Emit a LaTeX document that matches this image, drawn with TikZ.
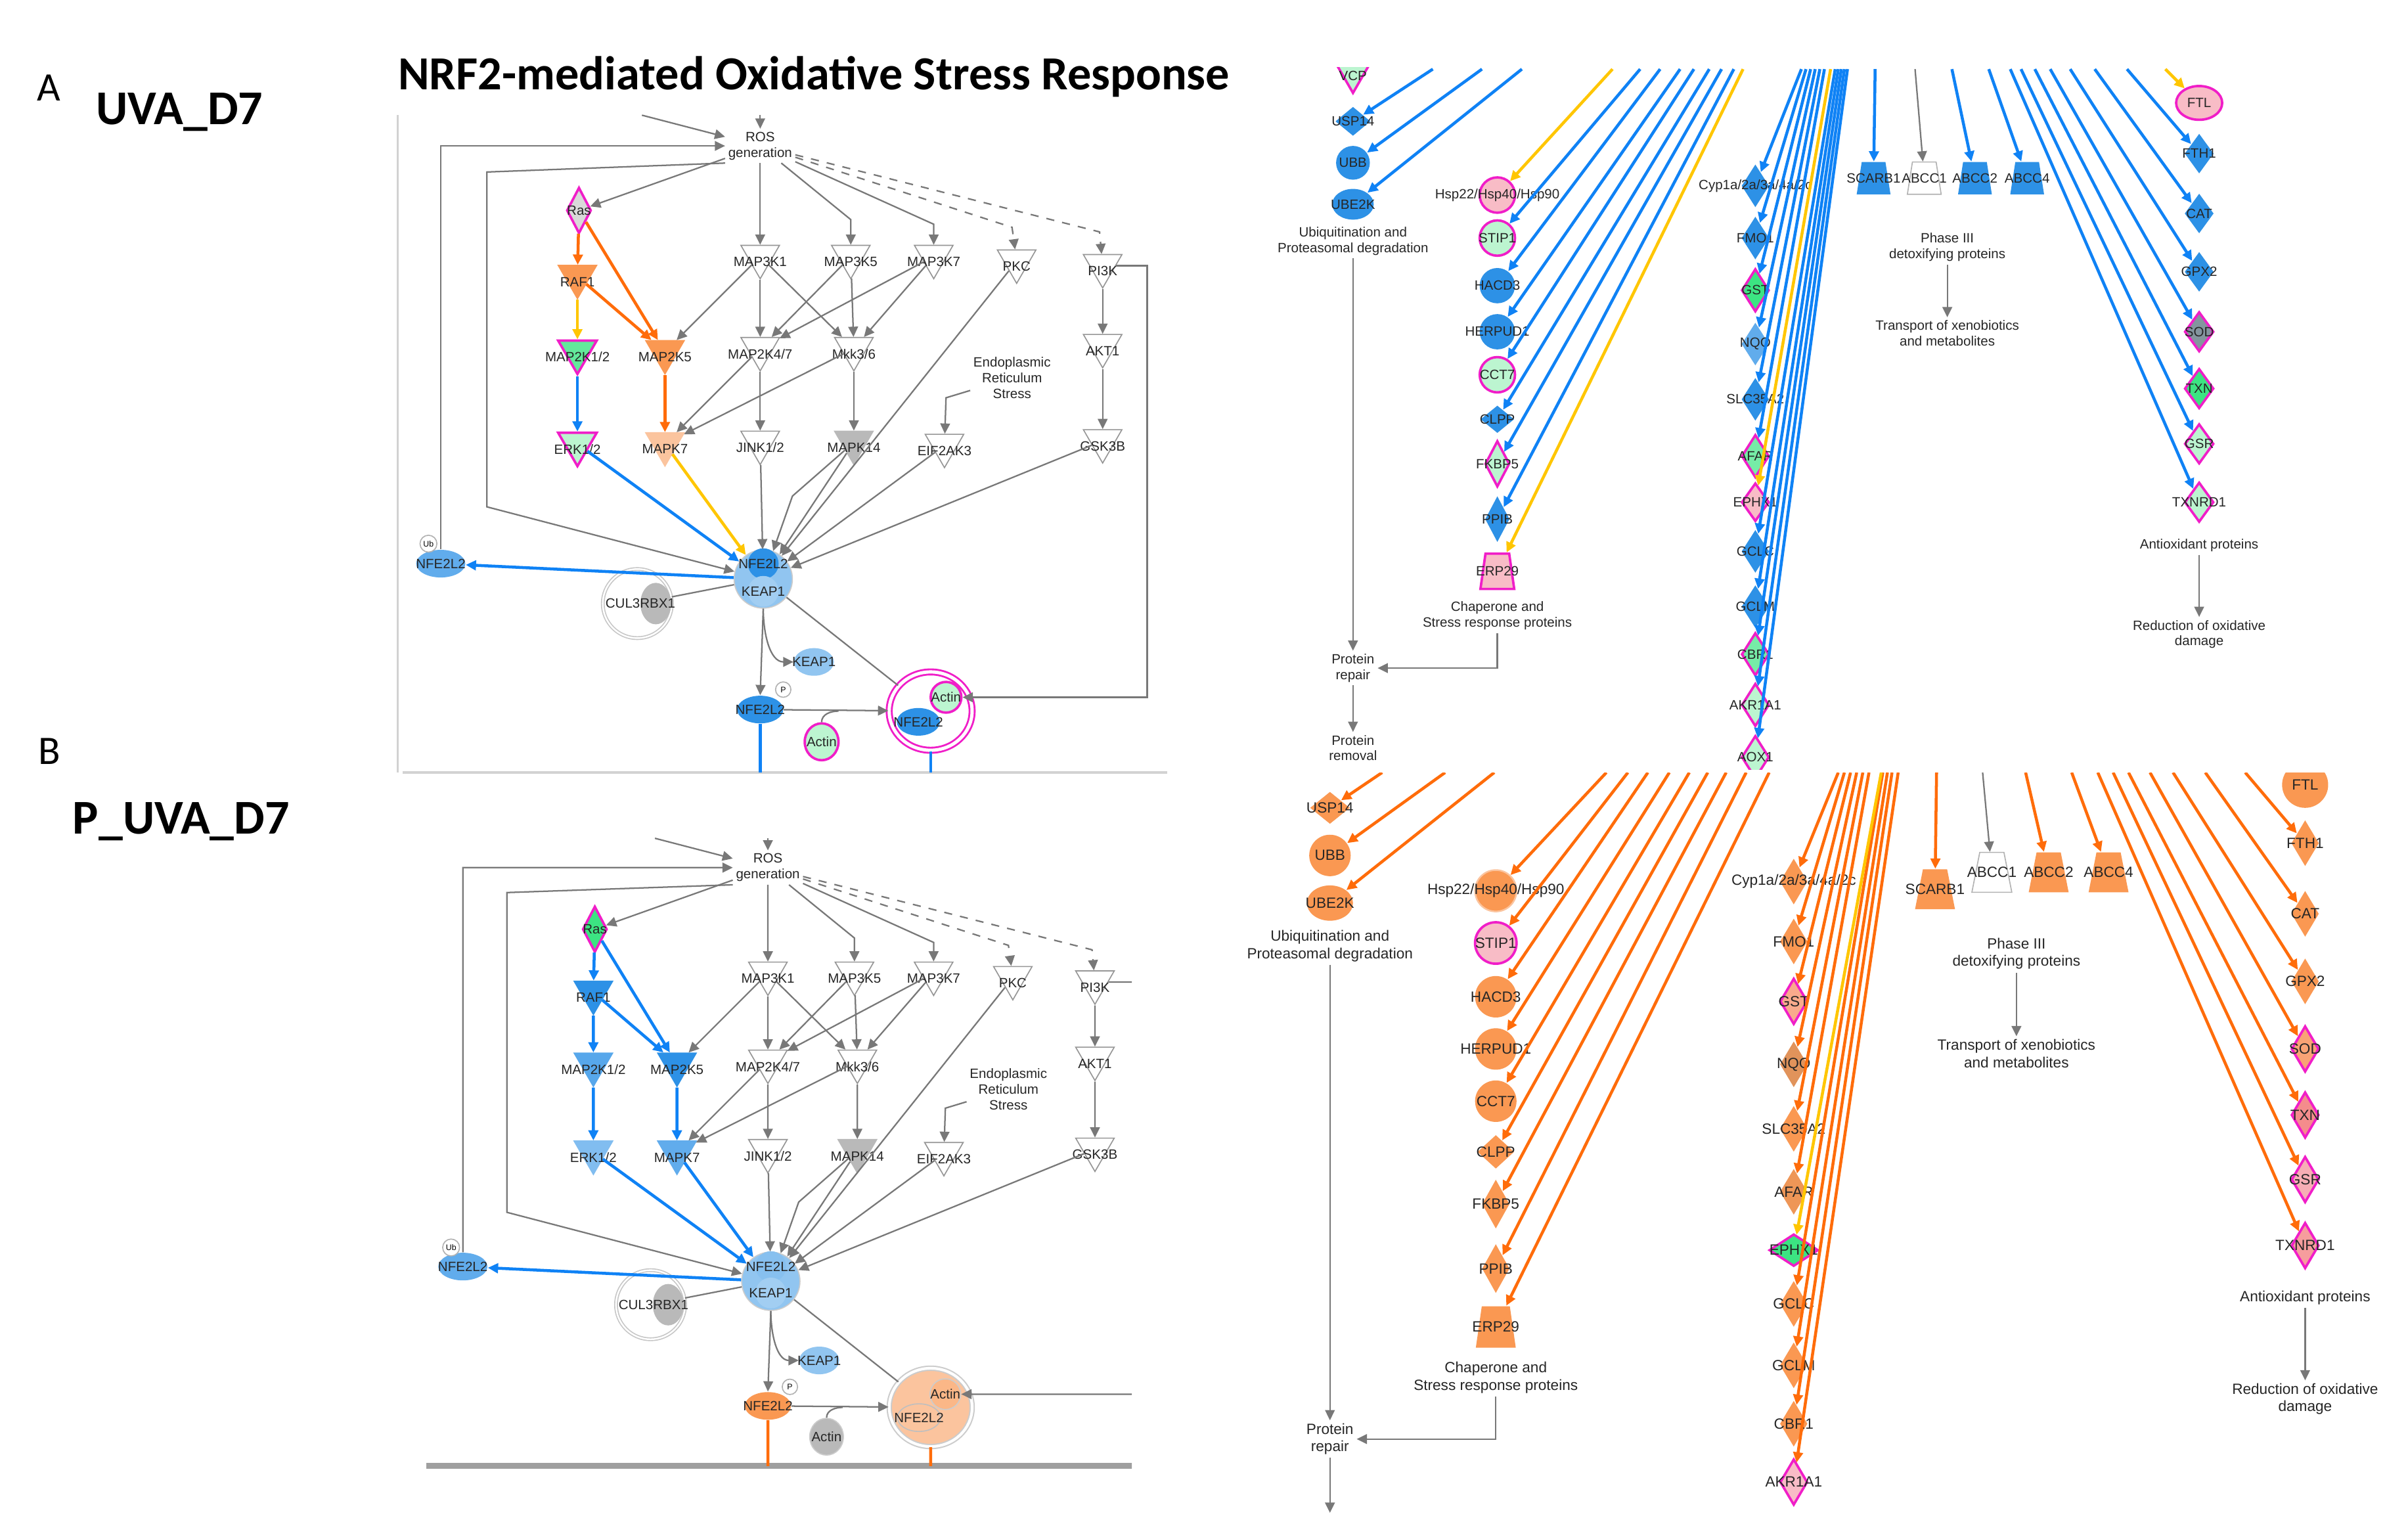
\documentclass[tikz,border=0pt]{standalone}
\usepackage{fontspec}
\setmainfont{Liberation Sans}
\newfontfamily\calib{Carlito}
\usetikzlibrary{shapes.geometric,arrows.meta}

\definecolor{mag}{RGB}{240,30,200}
\definecolor{gfill}{RGB}{60,228,130}
\definecolor{lgfill}{RGB}{188,245,208}
\definecolor{pfill}{RGB}{248,188,198}
\definecolor{salmon}{RGB}{244,140,140}
\definecolor{nblue}{RGB}{45,145,230}
\definecolor{sblue}{RGB}{145,197,240}
\definecolor{lnblue}{RGB}{15,130,245}
\definecolor{norange}{RGB}{250,152,82}
\definecolor{sorange}{RGB}{251,196,158}
\definecolor{lnorange}{RGB}{255,108,10}
\definecolor{lnyellow}{RGB}{255,198,0}
\definecolor{kline}{RGB}{150,150,150}
\definecolor{gline}{RGB}{120,120,120}

\tikzset{
  gt/.style={font=\fontsize{5}{5.6}\selectfont, inner sep=0pt, text=black!85},
  kt/.style={gt, yshift=-2pt},
  lbl/.style={font=\fontsize{5}{5.8}\selectfont, align=center, inner sep=1pt, text=black!85},
  kin/.style={regular polygon, regular polygon sides=3, shape border rotate=180,
    inner sep=0pt, minimum size=5.8mm, draw=kline, fill=white, line width=0.4pt},
  dia/.style={diamond, inner sep=0pt, minimum width=3.6mm, minimum height=5.6mm},
  cir/.style={circle, inner sep=0pt, minimum size=4.6mm},
  ell/.style={ellipse, inner sep=0pt, minimum width=5.4mm, minimum height=4mm},
  trap/.style={trapezium, trapezium angle=78, trapezium stretches=true,
    inner sep=0.4pt, minimum width=4.4mm, minimum height=4.2mm},
  magb/.style={draw=mag, line width=0.9pt},
  ipatip/.style={-{Triangle[length=3.8pt,width=3.6pt]}},
  glink/.style={draw=gline, line width=0.55pt},
  garr/.style={glink, ipatip},
  barr/.style={draw=lnblue, line width=1.1pt, ipatip},
  oarr/.style={draw=lnorange, line width=1.1pt, ipatip},
  yarr/.style={draw=lnyellow, line width=1.1pt, ipatip}
}

\newcommand\nrfpath{%
\draw[floorS] (262,503) -- (760,503);
\node[lbl] (ros) at (495,95) {ROS\\generation};
\coordinate (rin) at (418,75);
\coordinate (rtop) at (495,75);
\node[dia,rasS,minimum width=3.2mm,minimum height=6mm,label={[gt]center:Ras}] (ras) at (377,137) {};
\node[kin,rafS,label={[kt]center:RAF1}] (raf) at (376,180) {};
\node[kin,mekS,label={[kt]center:MAP2K1/2}] (mek) at (376,229) {};
\node[kin,erkS,label={[kt]center:ERK1/2}] (erk) at (376,289) {};
\node[kin,mek5S,label={[kt]center:MAP2K5}] (mek5) at (433,229) {};
\node[kin,mapk7S,label={[kt]center:MAPK7}] (mapk7) at (433,289) {};
\node[kin,label={[kt]center:MAP3K1}] (m3k1) at (495,167) {};
\node[kin,label={[kt]center:MAP3K5}] (m3k5) at (554,167) {};
\node[kin,label={[kt]center:MAP3K7}] (m3k7) at (608,167) {};
\node[kin,label={[kt]center:PKC}] (pkc) at (662,170) {};
\node[kin,label={[kt]center:PI3K}] (pik) at (718,173) {};
\node[kin,label={[kt]center:MAP2K4/7}] (mkk47) at (495,227) {};
\node[kin,label={[kt]center:Mkk3/6}] (mkk36) at (556,227) {};
\node[kin,label={[kt]center:AKT1}] (akt) at (718,225) {};
\node[kin,label={[kt]center:JINK1/2}] (jnk) at (495,288) {};
\node[kin,fill=gray!55,draw=gray!55,label={[kt]center:MAPK14}] (p38) at (556,288) {};
\node[kin,label={[kt]center:EIF2AK3}] (perk) at (615,290) {};
\node[kin,label={[kt]center:GSK3B}] (gsk) at (718,287) {};
\node[lbl] (ers) at (659,246) {Endoplasmic\\Reticulum\\Stress};
\node[circle,inner sep=0pt,minimum size=7.6mm,fill=sblue,draw=gray!40] (cplx) at (497,377) {};
\node[circle,inner sep=0pt,minimum size=4mm,cnS,label={[gt]center:NFE2L2}] (cnrf) at (497,367) {};
\node[circle,inner sep=0pt,minimum size=4mm,fill=sblue!85,label={[gt]center:KEAP1}] (ckeap) at (497,385) {};
\node[circle,inner sep=0pt,minimum size=9mm,draw=gray!45,double,fill=white] (cul) at (415,393) {};
\node[ellipse,inner sep=0pt,minimum width=4mm,minimum height=5.4mm,fill=gray!55] (rbx) at (427,393) {};
\node[gt] (cultxt) at (417,393) {CUL3RBX1};
\node[ell,fill=nblue!75,minimum width=6.4mm,minimum height=3.6mm,label={[gt]center:NFE2L2}] (nrfl) at (287,367) {};
\node[circle,draw=gray!60,fill=white,inner sep=0pt,minimum size=2.2mm,font=\fontsize{3}{3}\selectfont] (ub) at (279,354) {Ub};
\node[ell,fill=sblue,minimum width=5.2mm,minimum height=3.6mm,label={[gt]center:KEAP1}] (keapf) at (530,431) {};
\node[ell,nrfpS,minimum width=6mm,minimum height=3.6mm,label={[gt]center:NFE2L2}] (nrfp) at (495,462) {};
\node[circle,draw=gray!60,fill=white,inner sep=0pt,minimum size=2mm,font=\fontsize{3}{3}\selectfont] (pp) at (510,449) {P};
\node[ell,actS,minimum width=4.4mm,minimum height=4.8mm,label={[gt]center:Actin}] (actin) at (535,483) {};
\node[ellipse,inner sep=0pt,acxS,minimum width=10.8mm,minimum height=10.2mm] (acx) at (606,463) {};
\node[circle,inner sep=0pt,acinS,minimum size=4mm,label={[gt]center:Actin}] (acin) at (616,454) {};
\node[ellipse,inner sep=0pt,acnS,minimum width=5.6mm,minimum height=3.6mm,label={[gt]center:NFE2L2}] (acn) at (598,470) {};
\draw[garr] (rin) -- (ros);
\draw[garr] (rtop) -- (ros.north);
\draw[garr] (nrfl.north) -- (287,95) -- (ros.west);
\draw[garr] (ros.south west) -- (317,112) -- (317,330) -- (cplx);
\draw[garr] (ros) -- (ras);
\draw[garr] (ros) -- (m3k1);
\draw[garr] (ros) -- (554,143) -- (m3k5);
\draw[garr] (ros) -- (608,146) -- (m3k7);
\draw[garr,dashed] (ros) -- (659,148) -- (pkc);
\draw[garr,dashed] (ros) -- (716,151) -- (pik);
\draw[rrS] (ras) -- (raf);
\draw[rmS] (ras) -- (mek5);
\draw[fmS] (raf) -- (mek);
\draw[f5S] (raf) -- (mek5);
\draw[meS] (mek) -- (erk);
\draw[m7S] (mek5) -- (mapk7);
\draw[garr] (m3k1) -- (mek5);
\draw[garr] (m3k1) -- (mkk47);
\draw[garr] (m3k1) -- (mkk36);
\draw[garr] (m3k5) -- (mkk47);
\draw[garr] (m3k5) -- (mkk36);
\draw[garr] (m3k7) -- (mkk47);
\draw[garr] (m3k7) -- (mkk36);
\draw[garr] (mkk47) -- (mapk7);
\draw[garr] (mkk47) -- (jnk);
\draw[garr] (mkk36) -- (mapk7);
\draw[garr] (mkk36) -- (p38);
\draw[garr] (pik) -- (akt);
\draw[garr] (akt) -- (gsk);
\draw[garr] (ers) -- (616,259) -- (perk);
\draw[ecS] (erk) -- (cplx);
\draw[m7cS] (mapk7) -- (cplx);
\draw[garr] (jnk) -- (cplx);
\draw[garr] (p38) -- (516,323) -- (cplx);
\draw[garr] (p38) -- (cplx);
\draw[garr] (pkc) -- (cplx);
\draw[garr] (perk) -- (cplx);
\draw[garr] (gsk) -- (cplx);
\draw[barr] (cplx) -- (nrfl);
\draw[glink] (cul) -- (cplx);
\draw[garr] (cplx.south) to[out=-90,in=180] (keapf.west);
\draw[garr] (cplx.south) -- (nrfp.north);
\draw[glink] (cplx) -- (acx);
\draw[garr] (nrfp) -- (acx);
\draw[glink] (actin.north) to[out=90,in=180] (546,463);
\draw[garr] (pik.east) -- (747,173) |- (acin.east);
\draw[downS] (nrfp.south) -- (495,503);
\draw[downS] (acx.south) -- (606,503);
}

\begin{document}
\begin{tikzpicture}[x=0.02cm,y=-0.02cm]
\useasboundingbox[fill=white] (0,0) rectangle (1568,991);
\node[font=\calib\bfseries\fontsize{17.6}{19}\selectfont] (title) at (530,50) {NRF2-mediated Oxidative Stress Response};
\node[font=\calib\fontsize{15}{17}\selectfont] (pa) at (32,57) {A};
\node[font=\calib\bfseries\fontsize{18}{20}\selectfont] (ca) at (117,73) {UVA\_D7};
\node[font=\calib\fontsize{15}{17}\selectfont] (pb) at (32,489) {B};
\node[font=\calib\bfseries\fontsize{18}{20}\selectfont] (cb) at (118,535) {P\_UVA\_D7};

% panel A, pathway
\begin{scope}[name prefix=a-,
  rasS/.style={fill=gray!30,magb}, rafS/.style={fill=norange,draw=norange},
  mekS/.style={fill=gfill!80,magb}, erkS/.style={fill=lgfill,magb},
  mek5S/.style={fill=norange,draw=norange}, mapk7S/.style={fill=sorange,draw=sorange},
  cnS/.style={fill=nblue}, nrfpS/.style={fill=nblue}, actS/.style={fill=lgfill,magb},
  acxS/.style={draw=mag,double,double distance=1.2pt,line width=0.7pt,fill=white},
  acinS/.style={fill=lgfill,magb}, acnS/.style={fill=nblue},
  floorS/.style={draw=gray!35,line width=0.8pt}, downS/.style={draw=lnblue,line width=1.1pt},
  rrS/.style={oarr}, rmS/.style={oarr}, fmS/.style={yarr}, f5S/.style={oarr},
  meS/.style={barr}, m7S/.style={oarr}, ecS/.style={barr}, m7cS/.style={yarr}]
\draw[gray!35,line width=0.8pt] (259,75) -- (259,503);
\nrfpath
\end{scope}

% panel B, pathway
\begin{scope}
\clip (268,540) rectangle (737,962);
\begin{scope}[shift={(27.3,474.2)}, scale=0.955, name prefix=b-,
  rasS/.style={fill=gfill,magb}, rafS/.style={fill=nblue,draw=nblue},
  mekS/.style={fill=nblue!80,draw=nblue!80}, erkS/.style={fill=nblue!60,draw=nblue!60},
  mek5S/.style={fill=nblue,draw=nblue}, mapk7S/.style={fill=nblue!75,draw=nblue!75},
  cnS/.style={fill=sblue!90!nblue}, nrfpS/.style={fill=norange}, actS/.style={fill=gray!55,draw=gray!40},
  acxS/.style={draw=gray!40,double,double distance=1pt,line width=0.5pt,fill=sorange},
  acinS/.style={fill=sorange!70!norange,draw=gray!40}, acnS/.style={fill=sorange,draw=gray!50},
  floorS/.style={draw=gray!75,line width=2.2pt}, downS/.style={draw=lnorange,line width=1.1pt},
  rrS/.style={barr}, rmS/.style={barr}, fmS/.style={barr}, f5S/.style={barr},
  meS/.style={barr}, m7S/.style={barr}, ecS/.style={barr}, m7cS/.style={barr}]
\nrfpath
\end{scope}
\end{scope}

% panel A, target genes
\begin{scope}[name prefix=ra-]
\clip (800,44) rectangle (1568,501);
\node[kin,magb,fill=lgfill,label={[kt]center:VCP}] (vcp) at (881,46) {};
\node[dia,fill=nblue,minimum width=4.6mm,minimum height=3.8mm,label={[gt]center:USP14}] (usp) at (881,79) {};
\node[cir,fill=nblue,minimum size=4.4mm,label={[gt]center:UBB}] (ubb) at (881,106) {};
\node[ell,fill=nblue,label={[gt]center:UBE2K}] (ube) at (881,133) {};
\node[lbl] (ubq) at (881,157) {Ubiquitination and\\Proteasomal degradation};
\node[lbl] (prep) at (881,435) {Protein\\repair};
\node[lbl] (prem) at (881,487) {Protein\\removal};
\node[cir,magb,fill=pfill,label={[gt]center:Hsp22/Hsp40/Hsp90}] (hsp) at (975,127) {};
\node[cir,magb,fill=lgfill,label={[gt]center:STIP1}] (stip) at (975,155) {};
\node[cir,fill=nblue,label={[gt]center:HACD3}] (hacd) at (975,186) {};
\node[cir,fill=nblue,label={[gt]center:HERPUD1}] (herp) at (975,216) {};
\node[cir,magb,fill=lgfill,label={[gt]center:CCT7}] (cct) at (975,244) {};
\node[dia,fill=nblue,minimum width=4.4mm,minimum height=3.6mm,label={[gt]center:CLPP}] (clpp) at (975,273) {};
\node[dia,magb,fill=lgfill,minimum width=3.2mm,minimum height=6mm,label={[gt]center:FKBP5}] (fkbp) at (975,302) {};
\node[dia,fill=nblue,minimum width=3.2mm,minimum height=6mm,label={[gt]center:PPIB}] (ppib) at (975,338) {};
\node[trap,magb,fill=pfill,minimum height=4.6mm,label={[gt]center:ERP29}] (erp) at (975,372) {};
\node[lbl] (chap) at (975,401) {Chaperone and\\Stress response proteins};
\node[dia,fill=nblue,label={[gt]center:Cyp1a/2a/3a/4a/2c}] (cyp) at (1143,121) {};
\node[dia,fill=nblue,label={[gt]center:FMO1}] (fmo) at (1143,155) {};
\node[dia,magb,fill=gfill,label={[gt]center:GST}] (gst) at (1143,189) {};
\node[dia,fill=nblue!75,label={[gt]center:NQO}] (nqo) at (1143,224) {};
\node[dia,fill=nblue,label={[gt]center:SLC35A2}] (slc) at (1143,260) {};
\node[dia,magb,fill=gfill!70,label={[gt]center:AFAR}] (afar) at (1143,297) {};
\node[dia,magb,fill=pfill,minimum height=5mm,label={[gt]center:EPHX1}] (ephx) at (1143,327) {};
\node[dia,fill=nblue,label={[gt]center:GCLC}] (gclc) at (1143,359) {};
\node[dia,fill=nblue,label={[gt]center:GCLM}] (gclm) at (1143,395) {};
\node[dia,magb,fill=gfill!70,label={[gt]center:CBR1}] (cbr) at (1143,426) {};
\node[dia,magb,fill=lgfill,label={[gt]center:AKR1A1}] (akr) at (1143,459) {};
\node[dia,magb,fill=lgfill,label={[gt]center:AOX1}] (aox) at (1143,493) {};
\node[trap,fill=nblue,label={[gt]center:SCARB1}] (scarb) at (1220,116) {};
\node[trap,fill=white,draw=gray!60,label={[gt]center:ABCC1}] (abcc1) at (1253,116) {};
\node[trap,fill=nblue,label={[gt]center:ABCC2}] (abcc2) at (1286,116) {};
\node[trap,fill=nblue,label={[gt]center:ABCC4}] (abcc4) at (1320,116) {};
\node[lbl] (ph3) at (1268,161) {Phase III\\detoxifying proteins};
\node[lbl] (xeno) at (1268,217) {Transport of xenobiotics\\and metabolites};
\node[ell,magb,fill=pfill,minimum width=6mm,minimum height=4.4mm,label={[gt]center:FTL}] (ftl) at (1432,67) {};
\node[dia,fill=nblue,minimum width=3.8mm,minimum height=5.2mm,label={[gt]center:FTH1}] (fth) at (1432,100) {};
\node[dia,fill=nblue,minimum width=3.8mm,minimum height=5.2mm,label={[gt]center:CAT}] (cat) at (1432,139) {};
\node[dia,fill=nblue,minimum width=3.8mm,minimum height=5.2mm,label={[gt]center:GPX2}] (gpx) at (1432,177) {};
\node[dia,magb,fill=gfill!60!mag,minimum width=3.8mm,minimum height=5.2mm,label={[gt]center:SOD}] (sod) at (1432,216) {};
\node[dia,magb,fill=gfill,minimum width=3.8mm,minimum height=5.2mm,label={[gt]center:TXN}] (txn) at (1432,253) {};
\node[dia,magb,fill=lgfill,minimum width=3.8mm,minimum height=5.2mm,label={[gt]center:GSR}] (gsr) at (1432,289) {};
\node[dia,magb,fill=lgfill,minimum width=3.8mm,minimum height=5.2mm,label={[gt]center:TXNRD1}] (txnrd) at (1432,327) {};
\node[lbl] (antiox) at (1432,355) {Antioxidant proteins};
\node[lbl] (redox) at (1432,413) {Reduction of oxidative\\damage};
\draw[garr] (ubq) -- (prep);
\draw[garr] (prep) -- (prem);
\draw[garr] (chap.south) |- (prep.east);
\draw[garr] (ph3) -- (xeno);
\draw[garr] (antiox) -- (redox);
\foreach \n/\sx in {usp/933,ubb/965,ube/991,stip/1068,hacd/1081,herp/1094,cct/1103,clpp/1113,fkbp/1121,ppib/1129,
  cyp/1173,fmo/1176,gst/1179,nqo/1182,slc/1185,afar/1188,gclc/1195,gclm/1197,cbr/1199,akr/1201,aox/1203,
  scarb/1221,abcc2/1271,abcc4/1295,txnrd/1309,gsr/1316,txn/1325,sod/1335,gpx/1348,cat/1364,fth/1385}
  \draw[barr] (\sx,45) -- (\n);
\foreach \n/\sx in {hsp/1050,erp/1135,ephx/1192,ftl/1410}
  \draw[yarr] (\sx,45) -- (\n);
\draw[garr] (1247,45) -- (abcc1);
\end{scope}

% panel B, target genes
\begin{scope}[name prefix=rb-, gt/.append style={font=\fontsize{5.5}{6}\selectfont},
  lbl/.append style={font=\fontsize{5.5}{6.4}\selectfont},
  dia/.append style={minimum height=6mm}, cir/.append style={minimum size=5.4mm}]
\clip (790,503) rectangle (1568,991);
\node[dia,fill=norange,minimum width=5.2mm,minimum height=4.2mm,label={[gt]center:USP14}] (usp) at (866,526) {};
\node[cir,fill=norange,label={[gt]center:UBB}] (ubb) at (866,557) {};
\node[ell,fill=norange,minimum width=6mm,minimum height=4.6mm,label={[gt]center:UBE2K}] (ube) at (866,588) {};
\node[lbl] (ubq) at (866,616) {Ubiquitination and\\Proteasomal degradation};
\node[lbl] (prep) at (866,937) {Protein\\repair};
\coordinate (pend) at (866,985);
\node[cir,fill=norange,draw=sorange,line width=0.6pt,label={[gt]center:Hsp22/Hsp40/Hsp90}] (hsp) at (974,580) {};
\node[cir,magb,fill=pfill,label={[gt]center:STIP1}] (stip) at (974,614) {};
\node[cir,fill=norange,label={[gt]center:HACD3}] (hacd) at (974,649) {};
\node[cir,fill=norange,label={[gt]center:HERPUD1}] (herp) at (974,683) {};
\node[cir,fill=norange,label={[gt]center:CCT7}] (cct) at (974,717) {};
\node[dia,fill=norange,minimum width=4.8mm,minimum height=4.4mm,label={[gt]center:CLPP}] (clpp) at (974,750) {};
\node[dia,fill=norange,minimum height=6.4mm,label={[gt]center:FKBP5}] (fkbp) at (974,784) {};
\node[dia,fill=norange,minimum height=6.4mm,label={[gt]center:PPIB}] (ppib) at (974,826) {};
\node[trap,fill=norange,minimum width=5.2mm,minimum height=5.4mm,label={[gt]center:ERP29}] (erp) at (974,864) {};
\node[lbl] (chap) at (974,897) {Chaperone and\\Stress response proteins};
\node[dia,fill=norange,label={[gt]center:Cyp1a/2a/3a/4a/2c}] (cyp) at (1168,574) {};
\node[dia,fill=norange,label={[gt]center:FMO1}] (fmo) at (1168,613) {};
\node[dia,magb,fill=pfill!50!norange,label={[gt]center:GST}] (gst) at (1168,652) {};
\node[dia,fill=norange!80!gray,label={[gt]center:NQO}] (nqo) at (1168,693) {};
\node[dia,fill=norange,label={[gt]center:SLC35A2}] (slc) at (1168,735) {};
\node[dia,fill=norange!90!gray,label={[gt]center:AFAR}] (afar) at (1168,776) {};
\node[dia,magb,fill=gfill,minimum width=6.4mm,minimum height=4.2mm,label={[gt]center:EPHX1}] (ephx) at (1168,814) {};
\node[dia,fill=norange,label={[gt]center:GCLC}] (gclc) at (1168,849) {};
\node[dia,fill=norange,label={[gt]center:GCLM}] (gclm) at (1168,889) {};
\node[dia,fill=norange,label={[gt]center:CBR1}] (cbr) at (1168,927) {};
\node[dia,magb,fill=pfill,label={[gt]center:AKR1A1}] (akr) at (1168,965) {};
\node[trap,fill=norange,trapezium angle=72,minimum width=5.2mm,minimum height=5.2mm,label={[gt]center:SCARB1}] (scarb) at (1260,579) {};
\node[trap,fill=white,draw=gray!60,trapezium angle=72,minimum width=5.2mm,minimum height=5.2mm,label={[gt]center:ABCC1}] (abcc1) at (1297,568) {};
\node[trap,fill=norange,trapezium angle=72,minimum width=5.2mm,minimum height=5.2mm,label={[gt]center:ABCC2}] (abcc2) at (1334,568) {};
\node[trap,fill=norange,trapezium angle=72,minimum width=5.2mm,minimum height=5.2mm,label={[gt]center:ABCC4}] (abcc4) at (1373,568) {};
\node[lbl] (ph3) at (1313,621) {Phase III\\detoxifying proteins};
\node[lbl] (xeno) at (1313,686) {Transport of xenobiotics\\and metabolites};
\node[cir,fill=norange,minimum size=6mm,label={[gt]center:FTL}] (ftl) at (1501,511) {};
\node[dia,fill=norange,label={[gt]center:FTH1}] (fth) at (1501,549) {};
\node[dia,fill=norange,label={[gt]center:CAT}] (cat) at (1501,595) {};
\node[dia,fill=norange,label={[gt]center:GPX2}] (gpx) at (1501,639) {};
\node[dia,magb,fill=norange!70!pfill,label={[gt]center:SOD}] (sod) at (1501,683) {};
\node[dia,magb,fill=salmon,label={[gt]center:TXN}] (txn) at (1501,726) {};
\node[dia,magb,fill=pfill!70!salmon,label={[gt]center:GSR}] (gsr) at (1501,768) {};
\node[dia,magb,fill=salmon!85,label={[gt]center:TXNRD1}] (txnrd) at (1501,811) {};
\node[lbl] (antiox) at (1501,845) {Antioxidant proteins};
\node[lbl] (redox) at (1501,911) {Reduction of oxidative\\damage};
\draw[garr] (ubq) -- (prep);
\draw[garr] (prep) -- (pend);
\draw[garr] (chap.south) |- (prep.east);
\draw[garr] (ph3) -- (xeno);
\draw[garr] (antiox) -- (redox);
\foreach \n/\sx in {usp/900,ubb/941,ube/973,hsp/1046,stip/1060,hacd/1073,herp/1087,cct/1100,clpp/1112,fkbp/1124,ppib/1137,erp/1152,
  cyp/1197,fmo/1201,gst/1205,nqo/1209,slc/1213,afar/1217,gclc/1226,gclm/1229,cbr/1232,akr/1236,
  scarb/1261,abcc2/1319,abcc4/1349,txnrd/1366,gsr/1376,txn/1386,sod/1400,gpx/1415,cat/1436,fth/1462}
  \draw[oarr] (\sx,503) -- (\n);
\draw[yarr] (1225,503) -- (ephx);
\draw[garr] (1291,503) -- (abcc1);
\end{scope}
\end{tikzpicture}
\end{document}
